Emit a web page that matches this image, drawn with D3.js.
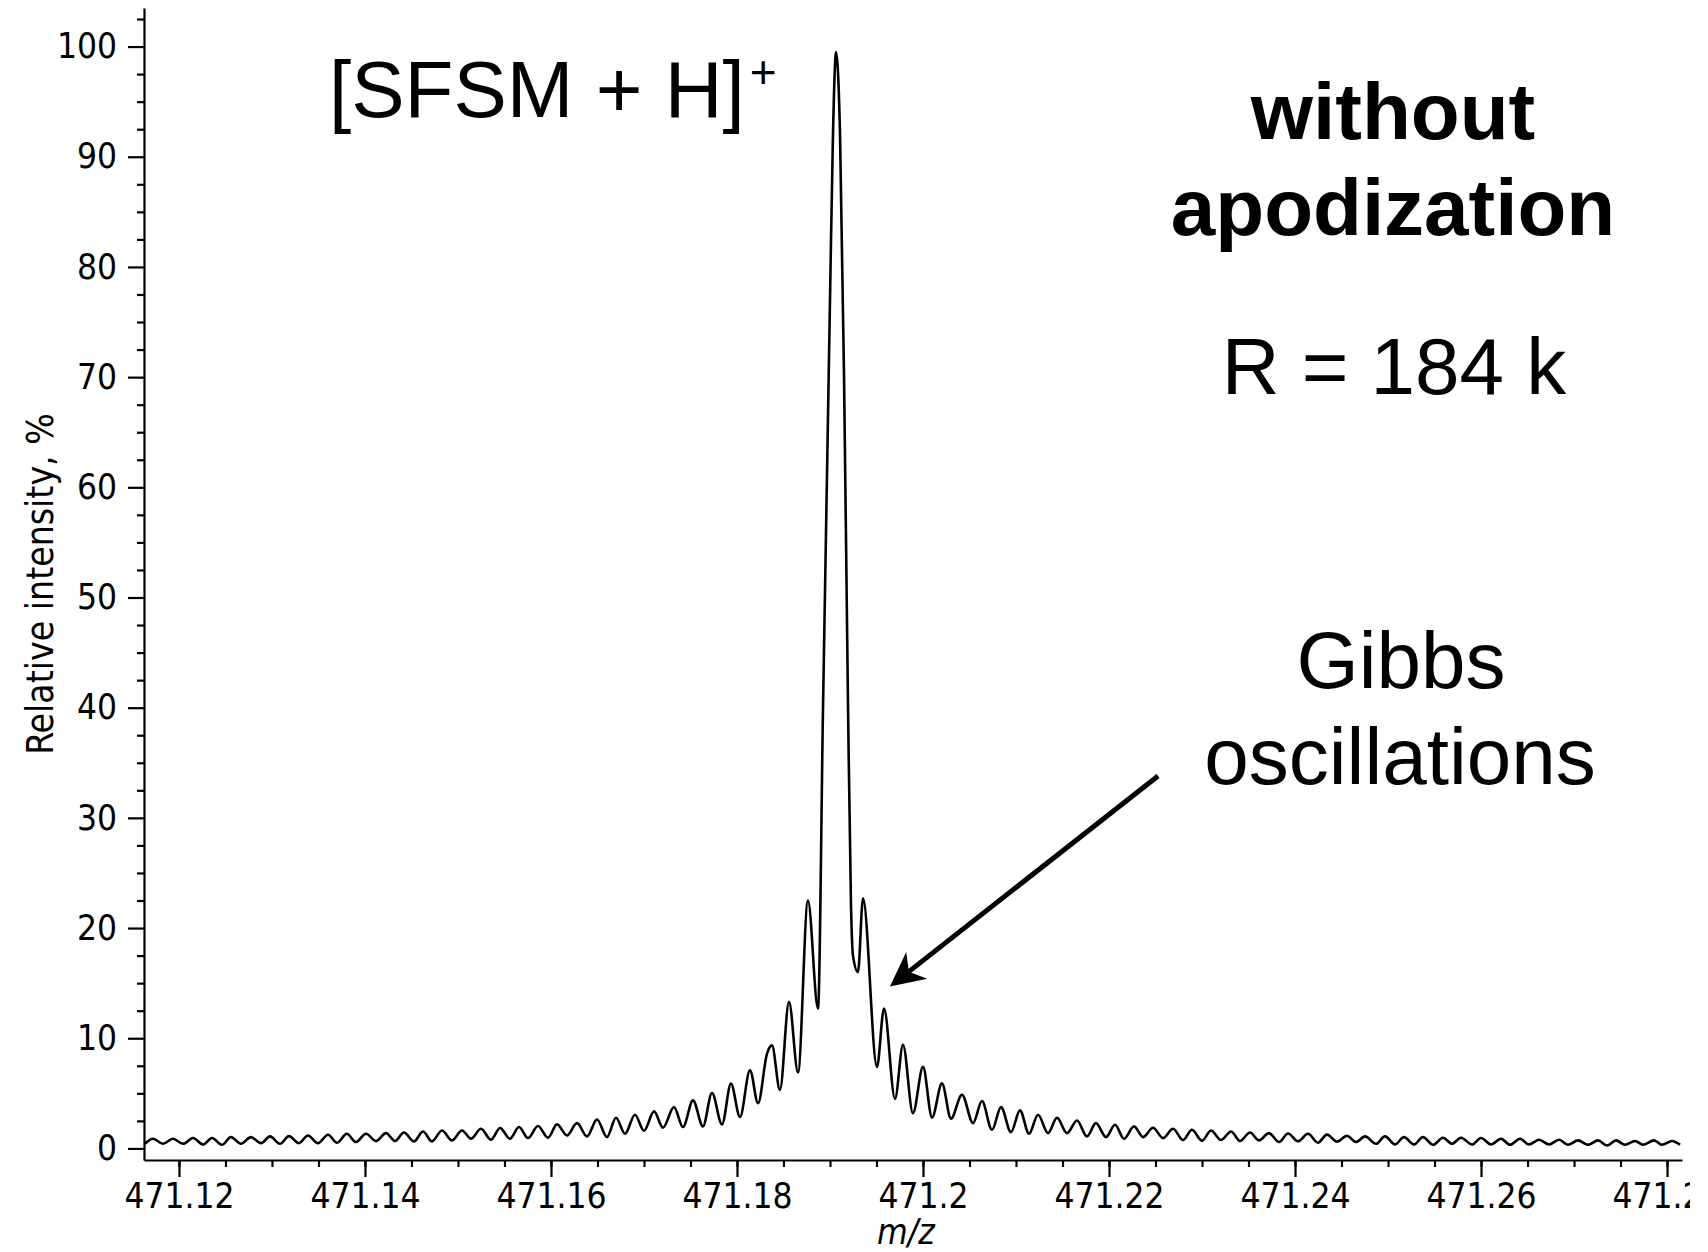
<!DOCTYPE html>
<html>
<head>
<meta charset="utf-8">
<script src="https://cdn.jsdelivr.net/npm/d3@7"></script>
<style>
  html, body { margin: 0; padding: 0; background: #fff; }
  svg { display: block; }
  .axis path, .axis line { stroke: #000; stroke-width: 2.2; }
  .axis text { font-family: "DejaVu Sans Condensed", "DejaVu Sans", sans-serif; font-size: 35px; fill: #000; }
  .note { font-family: "Liberation Sans", Arial, sans-serif; font-size: 80px; fill: #000; }
</style>
</head>
<body>
<svg id="chart"></svg>
<script>
// spectrum: m/z and relative intensity (%)
const leftWingMz = [471.11634, 471.11720, 471.11828, 471.11935, 471.12043, 471.12151, 471.12258, 471.12355, 471.12462, 471.12559,
  471.12667, 471.12774, 471.12882, 471.12978, 471.13086, 471.13183, 471.13290, 471.13387, 471.13495, 471.13602,
  471.13699, 471.13806, 471.13903, 471.14011, 471.14118, 471.14226, 471.14323, 471.14419, 471.14527, 471.14624,
  471.14720, 471.14828, 471.14935, 471.15043, 471.15140, 471.15247, 471.15355, 471.15452, 471.15559, 471.15656,
  471.15753, 471.15860, 471.15968, 471.16065, 471.16172, 471.16280, 471.16387, 471.16495, 471.16602, 471.16699,
  471.16796, 471.16903, 471.17000, 471.17108, 471.17204, 471.17323, 471.17419, 471.17527, 471.17634, 471.17731,
  471.17839, 471.17935, 471.18032, 471.18140, 471.18226, 471.18323, 471.18376, 471.18462, 471.18559, 471.18656];
const leftWingInt = [0.42, 0.88, 0.42, 0.88, 0.42, 0.94, 0.36, 0.94, 0.33, 1.03,
  0.42, 1.03, 0.48, 1.09, 0.42, 1.12, 0.48, 1.18, 0.48, 1.24,
  0.52, 1.33, 0.58, 1.33, 0.67, 1.39, 0.67, 1.45, 0.64, 1.53,
  0.64, 1.63, 0.73, 1.63, 0.88, 1.78, 0.79, 1.85, 0.88, 1.94,
  0.94, 2.03, 0.97, 2.18, 1.18, 2.3, 1.09, 2.63, 1.03, 2.78,
  1.33, 3.05, 1.6, 3.36, 1.88, 3.75, 1.94, 4.36, 2.0, 5.03,
  2.18, 5.88, 2.85, 7.1, 4.1, 8.6, 9.35, 5.3, 13.3, 6.9];

const coreMz = [471.18763, 471.18871, 471.18925, 471.19000, 471.19032, 471.19065, 471.19108,
  471.19151, 471.19194, 471.19226, 471.19247, 471.19301, 471.19355];
const coreInt = [22.5, 12.7, 40, 77, 92, 99.5, 92, 70, 40, 22, 17.5, 16.0, 22.7];

const rightWingMz = [471.19505, 471.19581, 471.19699, 471.19785, 471.19892, 471.20000, 471.20097, 471.20204, 471.20301, 471.20419,
  471.20538, 471.20634, 471.20742, 471.20839, 471.20946, 471.21043, 471.21140, 471.21237, 471.21344, 471.21441,
  471.21548, 471.21656, 471.21763, 471.21860, 471.21968, 471.22065, 471.22161, 471.22269, 471.22366, 471.22473,
  471.22581, 471.22688, 471.22796, 471.22892, 471.23000, 471.23097, 471.23204, 471.23312, 471.23409, 471.23516,
  471.23613, 471.23720, 471.23828, 471.23925, 471.24032, 471.24140, 471.24247, 471.24344, 471.24452, 471.24559,
  471.24656, 471.24753, 471.24871, 471.24968, 471.25075, 471.25172, 471.25280, 471.25376, 471.25484, 471.25591,
  471.25688, 471.25785, 471.25903, 471.26000, 471.26108, 471.26215, 471.26312, 471.26419, 471.26516, 471.26624,
  471.26731, 471.26839, 471.26935, 471.27043, 471.27151, 471.27258, 471.27355, 471.27452, 471.27548, 471.27656,
  471.27742, 471.27860, 471.27946, 471.28054, 471.28140];
const rightWingInt = [7.4, 12.7, 4.5, 9.4, 3.2, 7.4, 2.8, 5.9, 2.7, 4.87,
  2.3, 4.3, 1.69, 3.75, 1.48, 3.45, 1.33, 3.06, 1.39, 2.78,
  1.39, 2.54, 1.09, 2.3, 1.03, 2.15, 0.88, 2.0, 1.03, 1.88,
  0.94, 1.79, 0.76, 1.7, 0.7, 1.63, 0.76, 1.54, 0.68, 1.44,
  0.73, 1.39, 0.58, 1.36, 0.65, 1.33, 0.53, 1.25, 0.62, 1.15,
  0.58, 1.09, 0.42, 1.09, 0.36, 1.03, 0.36, 1.03, 0.33, 0.97,
  0.42, 0.97, 0.36, 0.94, 0.36, 0.88, 0.33, 0.88, 0.36, 0.79,
  0.36, 0.79, 0.33, 0.73, 0.33, 0.73, 0.27, 0.73, 0.33, 0.67,
  0.33, 0.73, 0.33, 0.67, 0.33];

const xTickValues = [471.12, 471.14, 471.16, 471.18, 471.2, 471.22, 471.24, 471.26, 471.28];
const xTickLabels = ["471.12", "471.14", "471.16", "471.18", "471.2", "471.22", "471.24", "471.26", "471.28"];
const yTickValues = [0, 10, 20, 30, 40, 50, 60, 70, 80, 90, 100];
const yTickLabels = ["0", "10", "20", "30", "40", "50", "60", "70", "80", "90", "100"];

// annotation arrow, in data units (tail -> tip)
const arrowMz = [471.22527, 471.19645];
const arrowInt = [33.8, 14.7];

const WIDTH = 1690;
const HEIGHT = 1252;
const X0 = 144, X1 = 1682, Y0 = 1160, Y1 = 8;

const x = d3.scaleLinear().domain([471.11624, 471.28161]).range([X0, X1]);
const y = d3.scaleLinear().domain([-1.05, 103.5]).range([Y0, Y1]);

const svg = d3.select("#chart")
  .attr("width", WIDTH)
  .attr("height", HEIGHT);

// minor ticks first so the major ones sit on top
const xMinor = d3.range(0, 34).map(i => 471.115 + i * 0.005)
  .filter(v => v >= x.domain()[0] && v <= x.domain()[1]);
const yMinor = d3.range(0, 42).map(i => i * 2.5).filter(v => v % 10 !== 0);

svg.append("g")
  .attr("class", "axis")
  .attr("transform", `translate(0,${Y0})`)
  .call(d3.axisBottom(x).tickValues(xMinor).tickFormat("").tickSize(7).tickSizeOuter(0))
  .call(g => g.select(".domain").remove());

svg.append("g")
  .attr("class", "axis")
  .attr("transform", `translate(${X0},0)`)
  .call(d3.axisLeft(y).tickValues(yMinor).tickFormat("").tickSize(7).tickSizeOuter(0))
  .call(g => g.select(".domain").remove());

svg.append("g")
  .attr("class", "axis")
  .attr("transform", `translate(0,${Y0})`)
  .call(d3.axisBottom(x).tickValues(xTickValues).tickFormat((d, i) => xTickLabels[i])
    .tickSize(17).tickPadding(6).tickSizeOuter(0));

svg.append("g")
  .attr("class", "axis")
  .attr("transform", `translate(${X0},0)`)
  .call(d3.axisLeft(y).tickValues(yTickValues).tickFormat((d, i) => yTickLabels[i])
    .tickSize(16).tickPadding(11).tickSizeOuter(0));

// axis titles
svg.append("text")
  .attr("transform", "translate(53,584) rotate(-90)")
  .attr("text-anchor", "middle")
  .style("font-family", '"DejaVu Sans Condensed", "DejaVu Sans", sans-serif')
  .style("font-size", "37px")
  .text("Relative intensity, %");

svg.append("text")
  .attr("x", 906)
  .attr("y", 1244)
  .attr("text-anchor", "middle")
  .style("font-family", '"DejaVu Sans Condensed", "DejaVu Sans", sans-serif')
  .style("font-size", "35px")
  .style("font-style", "italic")
  .text("m/z");

// the spectrum
const mz = leftWingMz.concat(coreMz, rightWingMz);
const intensity = leftWingInt.concat(coreInt, rightWingInt);
const points = mz.map((m, i) => ({ mz: m, v: intensity[i] }));

const line = d3.line()
  .x(d => x(d.mz))
  .y(d => y(d.v))
  .curve(d3.curveMonotoneX);

svg.append("path")
  .datum(points)
  .attr("d", line)
  .attr("fill", "none")
  .attr("stroke", "#000")
  .attr("stroke-width", 2.6)
  .attr("stroke-linejoin", "round");

// annotations
const title = svg.append("text").attr("class", "note").attr("x", 329).attr("y", 117);
title.append("tspan").text("[SFSM + H]");
title.append("tspan").attr("dx", 5).attr("dy", -29).style("font-size", "46px").text("+");

svg.append("text").attr("class", "note").attr("x", 1393).attr("y", 139)
  .attr("text-anchor", "middle").style("font-weight", "bold").text("without");
svg.append("text").attr("class", "note").attr("x", 1393).attr("y", 235)
  .attr("text-anchor", "middle").style("font-weight", "bold").text("apodization");
svg.append("text").attr("class", "note").attr("x", 1394).attr("y", 394)
  .attr("text-anchor", "middle").text("R = 184 k");
svg.append("text").attr("class", "note").attr("x", 1401).attr("y", 688)
  .attr("text-anchor", "middle").text("Gibbs");
svg.append("text").attr("class", "note").attr("x", 1400).attr("y", 784)
  .attr("text-anchor", "middle").text("oscillations");

// arrow pointing at the first side lobes
const ax0 = x(arrowMz[0]), ay0 = y(arrowInt[0]);
const ax1 = x(arrowMz[1]), ay1 = y(arrowInt[1]);
const len = Math.hypot(ax0 - ax1, ay0 - ay1);
const ux = (ax0 - ax1) / len, uy = (ay0 - ay1) / len;
const headLen = 34, headHalf = 17, notch = 24;

svg.append("line")
  .attr("x1", ax0).attr("y1", ay0)
  .attr("x2", ax1 + ux * notch).attr("y2", ay1 + uy * notch)
  .attr("stroke", "#000")
  .attr("stroke-width", 5);

const head = [
  [ax1, ay1],
  [ax1 + ux * headLen - uy * headHalf, ay1 + uy * headLen + ux * headHalf],
  [ax1 + ux * notch, ay1 + uy * notch],
  [ax1 + ux * headLen + uy * headHalf, ay1 + uy * headLen - ux * headHalf]
];
svg.append("path")
  .attr("d", "M" + head.map(p => p.join(",")).join("L") + "Z")
  .attr("fill", "#000");
</script>
</body>
</html>
